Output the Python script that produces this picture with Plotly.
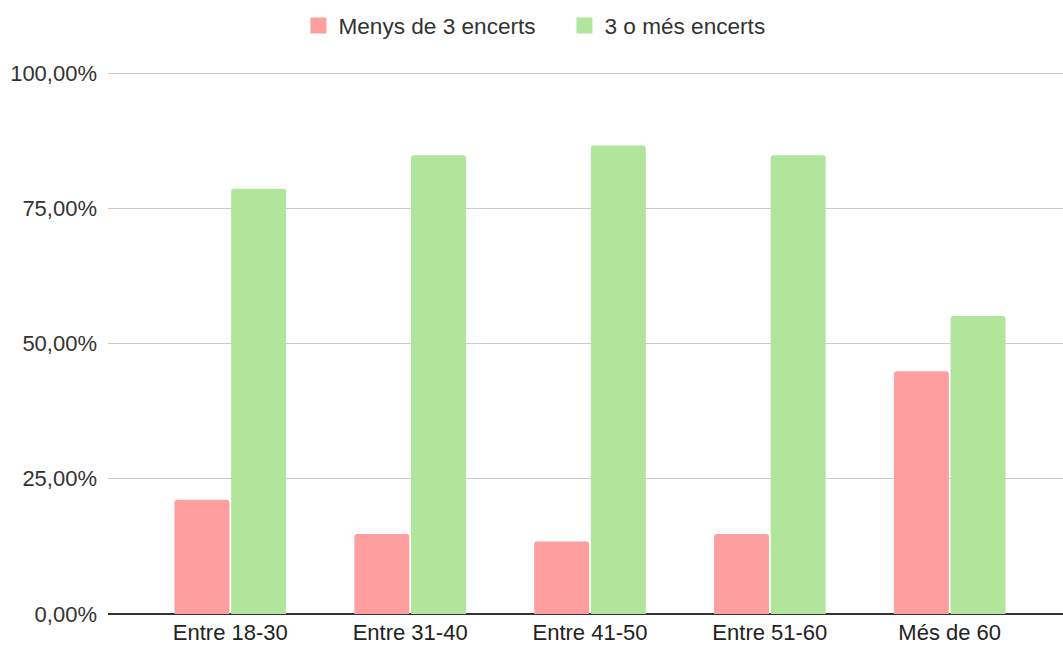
import plotly.graph_objects as go

categories = ["Entre 18-30", "Entre 31-40", "Entre 41-50", "Entre 51-60", "Més de 60"]
menys_de_3 = [21.1, 14.8, 13.4, 14.8, 44.9]
tres_o_mes = [78.6, 84.8, 86.6, 84.8, 55.1]
series_names = ["Menys de 3 encerts", "3 o més encerts"]
tick_vals = [0, 25, 50, 75, 100]
tick_text = ["0,00%", "25,00%", "50,00%", "75,00%", "100,00%"]

RED = "#FF9E9E"
GREEN = "#B2E59C"
FONT = "Arial, Liberation Sans, sans-serif"

fig = go.Figure()
for name, vals, col in [(series_names[0], menys_de_3, RED), (series_names[1], tres_o_mes, GREEN)]:
    fig.add_trace(go.Bar(x=categories, y=vals, name=name, marker=dict(color=col, line=dict(width=0), cornerradius=3),
                         showlegend=False))
    fig.add_trace(go.Scatter(x=[None], y=[None], mode="markers", name=name,
                             marker=dict(symbol="square", size=16, color=col)))

fig.update_layout(
    width=1063, height=645,
    margin=dict(l=108, r=0, t=72, b=31),
    paper_bgcolor="white", plot_bgcolor="white",
    barmode="group", bargap=0.37, bargroupgap=0.03,
    font=dict(family=FONT, size=22, color="#333"),
    legend=dict(orientation="h", xref="container", x=0.531, xanchor="center",
                yref="container", y=0.96, yanchor="middle",
                font=dict(size=22.6, color="#333"), itemsizing="trace",
                entrywidth=221),
    xaxis=dict(range=[-0.68, 4.63], showgrid=False, showline=False, ticks="",
               tickfont=dict(size=22, color="#222"), ticklabelstandoff=3, automargin=False),
    yaxis=dict(range=[0, 100.2], tickvals=tick_vals, ticktext=tick_text,
               showgrid=True, gridcolor="#CCCCCC", gridwidth=1,
               zeroline=True, zerolinecolor="#333333", zerolinewidth=2,
               showline=False, ticks="", ticklabelstandoff=10, automargin=False,
               tickfont=dict(size=22, color="#333")),
)

fig.write_html("out.html", config={"displayModeBar": False},
               post_script="document.body.style.margin='0px';")
